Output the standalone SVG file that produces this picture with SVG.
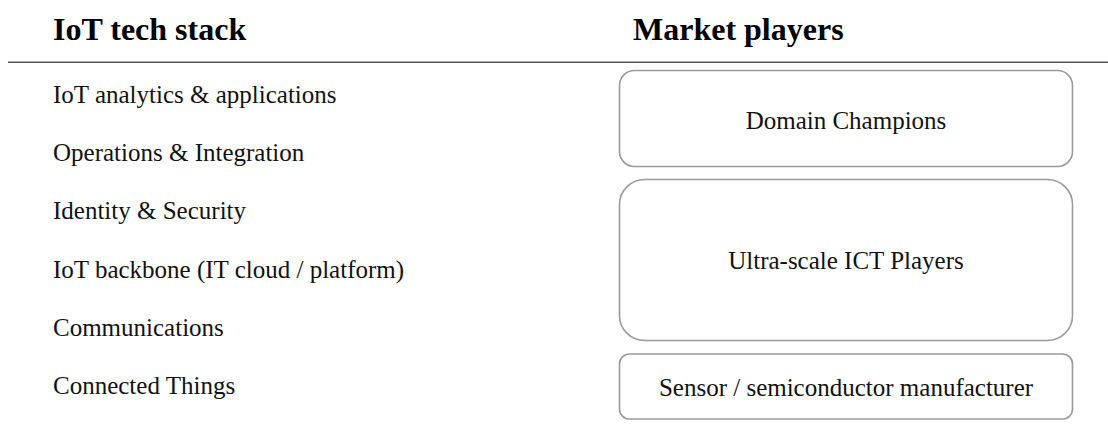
<svg xmlns="http://www.w3.org/2000/svg" width="1108" height="429" viewBox="0 0 1108 429">
  <style>
    .head { font-family: "Liberation Serif", "Times New Roman", serif; font-weight: bold; font-size: 32px; fill: #000; }
    .item { font-family: "Liberation Serif", "Times New Roman", serif; font-size: 25px; fill: #111; }
    .box { fill: #fff; stroke: #9a9a9a; stroke-width: 1.6; }
    .label { font-family: "Liberation Serif", "Times New Roman", serif; font-size: 25px; fill: #111; text-anchor: middle; }
  </style>
  <rect width="1108" height="429" fill="#fff"/>
  <g id="headings">
    <text class="head" x="53" y="40">IoT tech stack</text>
    <text class="head" x="633" y="40">Market players</text>
    <line x1="8" y1="62.3" x2="1108" y2="62.3" stroke="#555" stroke-width="1.4"/>
  </g>
  <g id="stack">
    <text class="item" x="53" y="103">IoT analytics &amp; applications</text>
    <text class="item" x="53" y="161">Operations &amp; Integration</text>
    <text class="item" x="53" y="219">Identity &amp; Security</text>
    <text class="item" x="53" y="278">IoT backbone (IT cloud / platform)</text>
    <text class="item" x="53" y="336">Communications</text>
    <text class="item" x="53" y="394">Connected Things</text>
  </g>
  <g id="domain-champions">
    <rect class="box" x="619.5" y="70.5" width="453" height="96" rx="15"/>
    <text class="label" x="846" y="129">Domain Champions</text>
  </g>
  <g id="ultra-scale-ict">
    <rect class="box" x="619.5" y="179.5" width="453" height="161" rx="25"/>
    <text class="label" x="846" y="269">Ultra-scale ICT Players</text>
  </g>
  <g id="sensor-manufacturer">
    <rect class="box" x="619.5" y="354" width="453" height="65" rx="10"/>
    <text class="label" x="846" y="396">Sensor / semiconductor manufacturer</text>
  </g>
  <g id="connectors"></g>
</svg>
